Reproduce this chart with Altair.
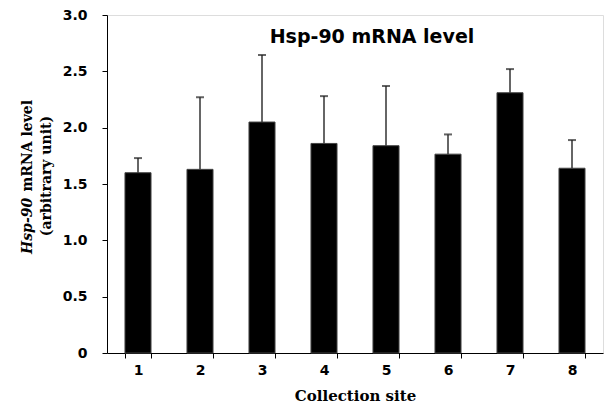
import altair as alt
import pandas as pd

sites = ["1", "2", "3", "4", "5", "6", "7", "8"]
means = [1.60, 1.63, 2.05, 1.86, 1.84, 1.765, 2.31, 1.64]
uppers = [1.73, 2.27, 2.645, 2.28, 2.37, 1.94, 2.52, 1.89]

df = pd.DataFrame({"site": sites, "mean": means, "upper": uppers})

SANS = "DejaVu Sans"
SERIF = "DejaVu Serif"

x_enc = alt.X(
    "site:N",
    sort=sites,
    scale=alt.Scale(paddingInner=0.58, paddingOuter=0.29),
    axis=alt.Axis(
        title="Collection site",
        titleFont=SERIF,
        titleFontSize=15,
        titleFontWeight="bold",
        titleColor="black",
        titlePadding=11,
        labelAngle=0,
        labelFont=SANS,
        labelFontSize=14,
        labelFontWeight="bold",
        labelColor="black",
        labelPadding=5,
        tickBand="extent",
        tickSize=5,
        tickColor="black",
        domainColor="black",
    ),
)

y_scale = alt.Scale(domain=[0, 3], nice=False)

bars = alt.Chart(df).mark_bar(color="black", stroke="#444", strokeWidth=1).encode(
    x=x_enc,
    y=alt.Y(
        "mean:Q",
        scale=y_scale,
        axis=alt.Axis(
            title=None,
            values=[0, 0.5, 1, 1.5, 2, 2.5, 3],
            labelExpr="datum.value == 0 ? '0' : format(datum.value, '.1f')",
            labelFont=SANS,
            labelFontSize=14,
            labelFontWeight="bold",
            labelColor="black",
            labelPadding=15,
            tickSize=5,
            tickColor="black",
            domainColor="black",
            grid=False,
        ),
    ),
)

rules = alt.Chart(df).mark_rule(color="#333", strokeWidth=1.5).encode(
    x=alt.X("site:N", sort=sites),
    y=alt.Y("mean:Q", scale=y_scale),
    y2="upper:Q",
)

caps = alt.Chart(df).mark_tick(color="#222", size=8, thickness=2).encode(
    x=alt.X("site:N", sort=sites),
    y=alt.Y("upper:Q", scale=y_scale),
)

one = alt.Data(values=[{"a": 1}])

title_txt = alt.Chart(one).mark_text(
    font=SANS, fontSize=19, fontWeight="bold", align="center", baseline="alphabetic", color="black"
).encode(x=alt.value(265), y=alt.value(28), text=alt.value("Hsp-90 mRNA level"))

yt1 = alt.Chart(one).mark_text(
    font=SERIF, fontSize=14, fontWeight="bold", fontStyle="italic",
    angle=270, align="left", baseline="alphabetic", color="black"
).encode(x=alt.value(-75), y=alt.value(239), text=alt.value("Hsp-90"))

yt2 = alt.Chart(one).mark_text(
    font=SERIF, fontSize=14, fontWeight="bold",
    angle=270, align="right", baseline="alphabetic", color="black"
).encode(x=alt.value(-75), y=alt.value(85), text=alt.value("mRNA level"))

yt3 = alt.Chart(one).mark_text(
    font=SERIF, fontSize=14, fontWeight="bold",
    angle=270, align="center", baseline="alphabetic", color="black"
).encode(x=alt.value(-56), y=alt.value(161), text=alt.value("(arbitrary unit)"))

chart = alt.layer(bars, rules, caps, title_txt, yt1, yt2, yt3).properties(
    width=496,
    height=338,
    autosize=alt.AutoSizeParams(type="none"),
    padding={"left": 99, "top": 7, "right": 1, "bottom": 51},
).configure_view(stroke=None).configure(background="white")

chart.save("out.html", embed_options={"renderer": "svg", "actions": False})
